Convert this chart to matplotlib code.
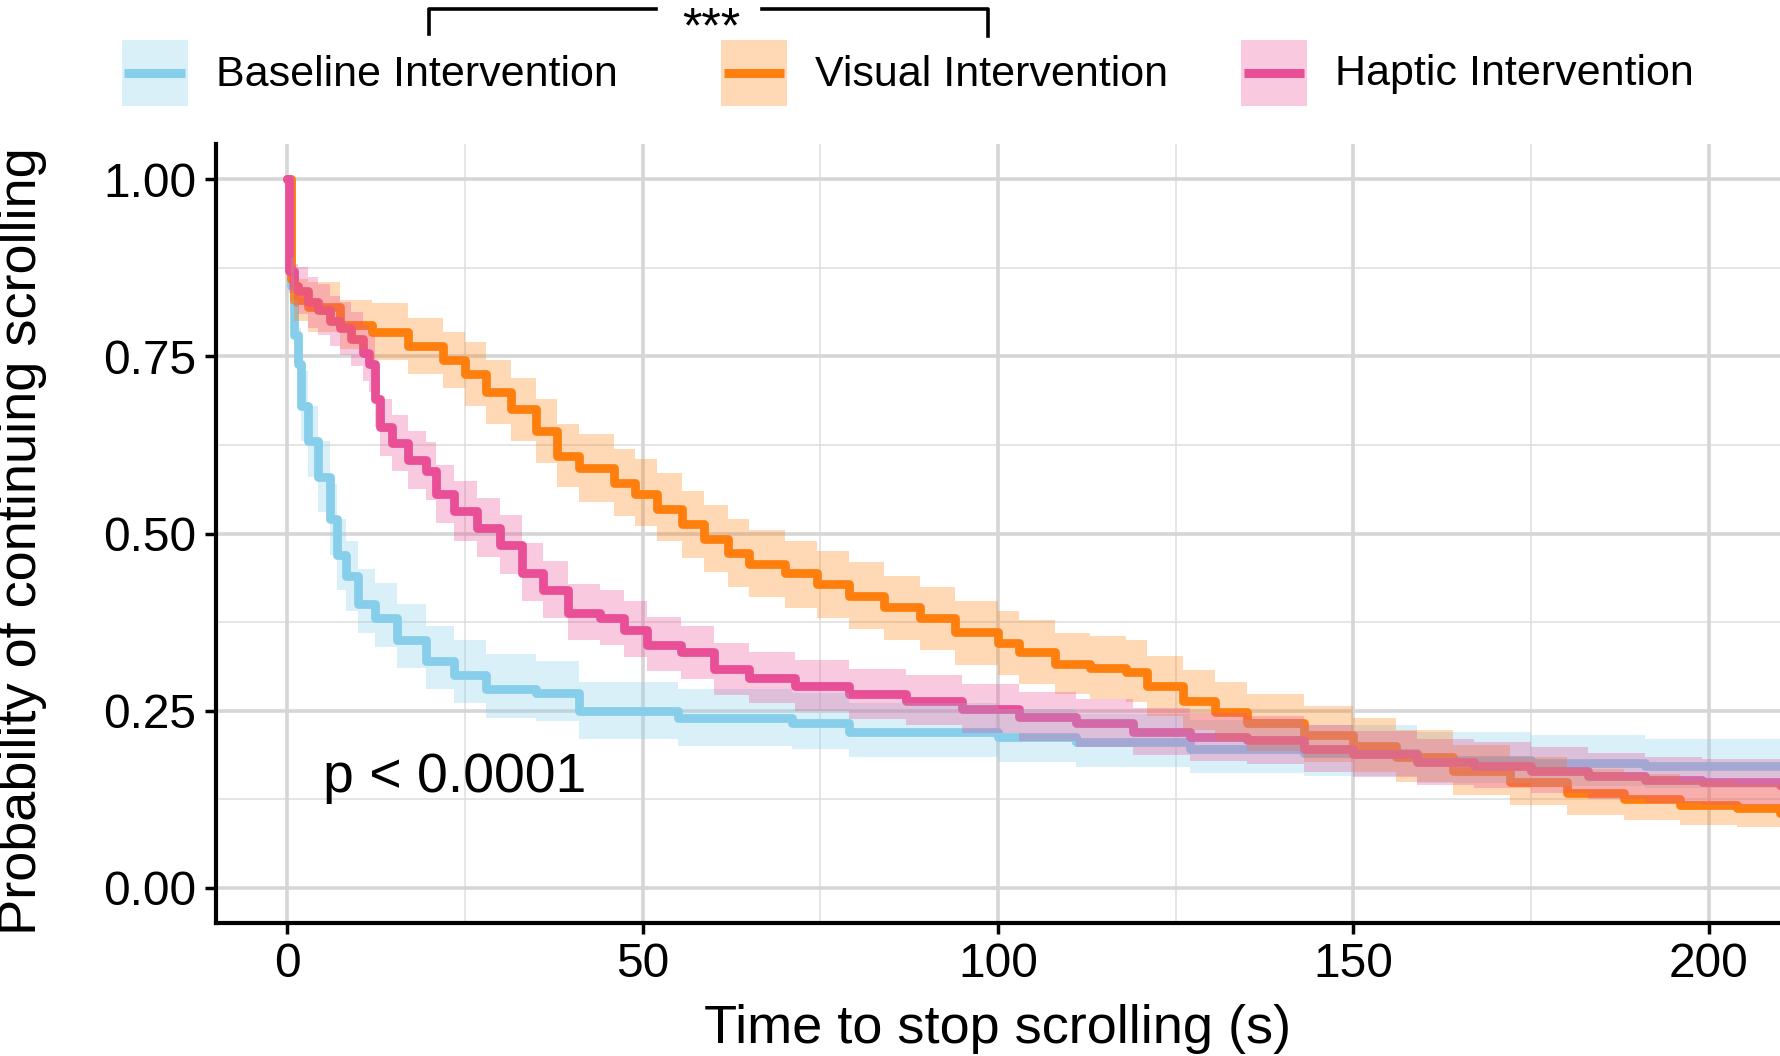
import matplotlib
matplotlib.use("Agg")
import matplotlib.pyplot as plt
from matplotlib.patches import Rectangle
from matplotlib.lines import Line2D

plt.rcParams['font.family'] = ['Liberation Sans', 'DejaVu Sans']

# ---------------- data ----------------
groups = ["Baseline Intervention", "Visual Intervention", "Haptic Intervention"]
colors = ["#87CEEB", "#FF7F0E", "#E84F96"]

baseline_t = [0, 0.5, 1, 1.5, 2, 3, 4.3, 6, 7, 8.3, 10, 12.3, 15.5, 19.5, 23.5, 28, 35, 41, 49, 55,
              63, 71, 79, 87, 100, 111, 127, 143, 159, 175, 191, 210]
baseline_s = [1.0, 0.85, 0.78, 0.74, 0.68, 0.63, 0.58, 0.52, 0.47, 0.44, 0.40, 0.38, 0.35, 0.32, 0.30,
              0.28, 0.275, 0.25, 0.25, 0.24, 0.24, 0.233, 0.22, 0.22, 0.212, 0.205, 0.196, 0.19, 0.18,
              0.176, 0.172, 0.172]
baseline_lo = [1.0, 0.81, 0.74, 0.69, 0.63, 0.58, 0.53, 0.47, 0.42, 0.39, 0.36, 0.34, 0.31, 0.28, 0.26,
               0.24, 0.235, 0.21, 0.21, 0.20, 0.20, 0.195, 0.185, 0.185, 0.178, 0.17, 0.162, 0.157,
               0.147, 0.143, 0.14, 0.14]
baseline_hi = [1.0, 0.89, 0.83, 0.79, 0.73, 0.68, 0.63, 0.57, 0.52, 0.49, 0.45, 0.43, 0.40, 0.37, 0.35,
               0.33, 0.32, 0.29, 0.29, 0.28, 0.28, 0.275, 0.26, 0.26, 0.252, 0.245, 0.236, 0.23,
               0.22, 0.215, 0.21, 0.21]

visual_t = [0, 0.5, 1, 3, 7.5, 12, 17, 22, 25, 28, 31.5, 35, 38, 41, 46, 49, 52, 55.5, 58.6, 62,
            65, 70, 74.6, 79, 84, 89, 94, 100, 103, 108, 113, 118, 121, 126, 130.5, 135, 143, 150,
            156, 164, 172, 180, 188, 196, 204, 210]
visual_s = [1.0, 0.86, 0.83, 0.82, 0.795, 0.785, 0.765, 0.745, 0.725, 0.70, 0.676, 0.645, 0.61, 0.593,
            0.572, 0.556, 0.535, 0.513, 0.492, 0.473, 0.457, 0.444, 0.428, 0.412, 0.396, 0.38, 0.361,
            0.345, 0.332, 0.316, 0.31, 0.305, 0.284, 0.264, 0.248, 0.232, 0.216, 0.20, 0.184, 0.165,
            0.149, 0.133, 0.125, 0.117, 0.113, 0.105]
visual_lo = [1.0, 0.83, 0.80, 0.785, 0.76, 0.745, 0.725, 0.705, 0.68, 0.655, 0.63, 0.60, 0.565, 0.545,
             0.525, 0.51, 0.49, 0.465, 0.445, 0.425, 0.41, 0.395, 0.38, 0.365, 0.35, 0.335, 0.315,
             0.30, 0.288, 0.273, 0.267, 0.262, 0.242, 0.223, 0.208, 0.193, 0.178, 0.163, 0.149,
             0.131, 0.116, 0.102, 0.095, 0.088, 0.085, 0.078]
visual_hi = [1.0, 0.89, 0.86, 0.855, 0.83, 0.825, 0.805, 0.785, 0.77, 0.745, 0.72, 0.69, 0.655, 0.64,
             0.62, 0.605, 0.585, 0.56, 0.54, 0.52, 0.505, 0.49, 0.475, 0.46, 0.44, 0.425, 0.405,
             0.39, 0.378, 0.36, 0.355, 0.35, 0.327, 0.307, 0.29, 0.273, 0.256, 0.24, 0.222, 0.202,
             0.185, 0.168, 0.16, 0.15, 0.146, 0.14]

haptic_t = [0, 0.3, 1, 1.5, 3, 4.3, 6, 7.5, 9, 10.7, 11.5, 12.3, 13, 14.7, 17, 19.5, 21, 23.5, 26.7,
            30, 33, 36, 39.5, 44, 47.4, 50.6, 55.4, 60, 65, 71.4, 79, 87, 95, 103, 111, 119, 127,
            135, 143, 150, 159, 167, 175, 183, 191, 199, 210]
haptic_s = [1.0, 0.87, 0.85, 0.843, 0.827, 0.816, 0.80, 0.79, 0.775, 0.755, 0.74, 0.69, 0.65, 0.628,
            0.604, 0.588, 0.556, 0.532, 0.508, 0.484, 0.444, 0.42, 0.388, 0.38, 0.364, 0.343, 0.332,
            0.308, 0.296, 0.284, 0.273, 0.264, 0.252, 0.241, 0.232, 0.22, 0.212, 0.208, 0.196,
            0.188, 0.177, 0.172, 0.165, 0.157, 0.152, 0.149, 0.145]
haptic_lo = [1.0, 0.84, 0.82, 0.81, 0.79, 0.78, 0.765, 0.752, 0.737, 0.715, 0.70, 0.65, 0.61, 0.588,
             0.563, 0.547, 0.515, 0.49, 0.467, 0.443, 0.404, 0.381, 0.35, 0.342, 0.326, 0.306, 0.295,
             0.272, 0.261, 0.249, 0.238, 0.229, 0.218, 0.207, 0.198, 0.187, 0.179, 0.175, 0.163,
             0.156, 0.145, 0.14, 0.133, 0.125, 0.12, 0.117, 0.113]
haptic_hi = [1.0, 0.90, 0.88, 0.876, 0.862, 0.852, 0.836, 0.827, 0.813, 0.795, 0.78, 0.73, 0.69, 0.668,
             0.645, 0.629, 0.597, 0.574, 0.55, 0.526, 0.486, 0.461, 0.428, 0.42, 0.404, 0.382, 0.37,
             0.346, 0.333, 0.321, 0.309, 0.30, 0.287, 0.276, 0.267, 0.254, 0.246, 0.242, 0.23,
             0.221, 0.21, 0.205, 0.198, 0.19, 0.185, 0.182, 0.178]

x_ticks = [0, 50, 100, 150, 200]
y_ticks = [0.00, 0.25, 0.50, 0.75, 1.00]
y_ticklabels = ["0.00", "0.25", "0.50", "0.75", "1.00"]
pval_text = "p < 0.0001"
signif_text = "***"

series = [
    (baseline_t, baseline_s, baseline_lo, baseline_hi),
    (visual_t, visual_s, visual_lo, visual_hi),
    (haptic_t, haptic_s, haptic_lo, haptic_hi),
]

# ---------------- figure ----------------
W, H = 1780, 1056
fig = plt.figure(figsize=(W / 100, H / 100), dpi=100)
ax = fig.add_axes([216 / W, 1 - 923 / H, (1780 - 216) / W, (923 - 144) / H])

# grid
for v in [25, 75, 125, 175]:
    ax.axvline(v, color="#DEDEDE", lw=1.1, zorder=0)
for v in [0.125, 0.375, 0.625, 0.875]:
    ax.axhline(v, color="#DEDEDE", lw=1.1, zorder=0)
for v in x_ticks:
    ax.axvline(v, color="#D6D6D6", lw=2.6, zorder=0)
for v in y_ticks:
    ax.axhline(v, color="#D6D6D6", lw=2.6, zorder=0)

# lines first, ribbons on top (as in the reference)
for (t, s, lo, hi), c in zip(series, colors):
    ax.step(t, s, where="post", color=c, lw=6.3, zorder=2,
            solid_joinstyle="round", solid_capstyle="round")
for (t, s, lo, hi), c in zip(series, colors):
    ax.fill_between(t, lo, hi, step="post", color=c, alpha=0.3, lw=0, zorder=3)

ax.set_xlim(-10, 210)
ax.set_ylim(-0.05, 1.05)
ax.set_xticks(x_ticks)
ax.set_yticks(y_ticks)
ax.set_yticklabels(y_ticklabels)
ax.tick_params(axis="both", labelsize=34.5, width=2.5, length=8, color="black", pad=6)
for side in ["top", "right"]:
    ax.spines[side].set_visible(False)
for side in ["left", "bottom"]:
    ax.spines[side].set_linewidth(3)
ax.set_xlabel("Time to stop scrolling (s)", fontsize=39)
ax.set_ylabel("Probability of continuing scrolling", fontsize=39)
ax.xaxis.set_label_coords(0.5, (923 - 1029) / 779)
ax.xaxis.label.set_va("center")
ax.yaxis.set_label_coords((22 - 216) / 1564, 0.49)
ax.yaxis.label.set_va("center")

ax.text(5.0, 0.135, pval_text, fontsize=40, ha="left", va="baseline", zorder=5)

# ---------------- legend (top) ----------------
def fx(px):
    return px / W

def fy(py):
    return 1 - py / H

key_x = [121.5, 720.9, 1240.8]
text_x = [215.7, 815.0, 1335.0]
key_w, key_top, key_bot = 66, 39.7, 105.6
for kx, tx, c, g in zip(key_x, text_x, colors, groups):
    fig.add_artist(Rectangle((fx(kx), fy(key_bot)), key_w / W, (key_bot - key_top) / H,
                             transform=fig.transFigure, facecolor=c, alpha=0.3, lw=0))
    ymid = fy((key_top + key_bot) / 2)
    fig.add_artist(Line2D([fx(kx + 3), fx(kx + key_w - 3)], [ymid, ymid],
                          transform=fig.transFigure, color=c, lw=6.5, solid_capstyle="butt"))
    fig.text(fx(tx), fy(85.5), g, fontsize=31, ha="left", va="baseline")

# significance bracket
bx0, bx1, btop = 429, 988, 9
fig.add_artist(Line2D([fx(bx0), fx(bx0), fx(656)], [fy(34), fy(btop), fy(btop)],
                      transform=fig.transFigure, color="black", lw=2.6))
fig.add_artist(Line2D([fx(762), fx(bx1), fx(bx1)], [fy(btop), fy(btop), fy(36)],
                      transform=fig.transFigure, color="black", lw=2.6))
fig.text(fx(711), fy(42), signif_text, fontsize=36, ha="center", va="baseline")

fig.savefig("out.png", dpi=100)
